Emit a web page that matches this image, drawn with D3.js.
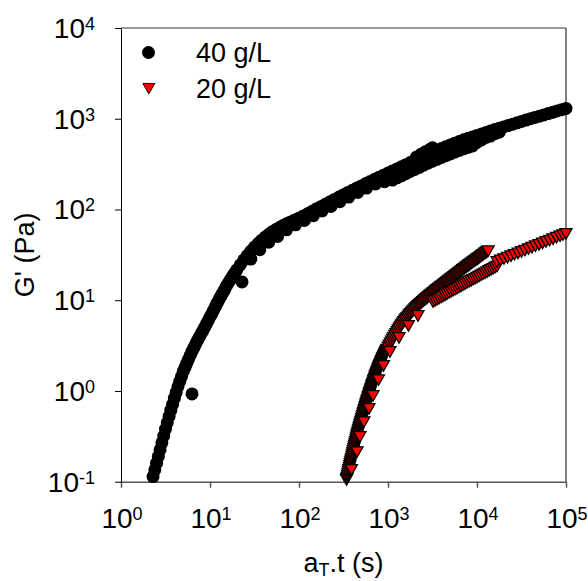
<!DOCTYPE html>
<html>
<head>
<meta charset="utf-8">
<script src="https://cdn.jsdelivr.net/npm/d3@7"></script>
<style>
  html, body { margin: 0; padding: 0; background: #fff; }
  svg { display: block; font-family: "Liberation Sans", Arial, Helvetica, sans-serif; }
</style>
</head>
<body>
<svg id="chart" width="588" height="581"></svg>
<script>
// ---------------- data ----------------
const seriesNames = ["40 g/L", "20 g/L"];
const xTickExponents = [0, 1, 2, 3, 4, 5];
const yTickExponents = [-1, 0, 1, 2, 3, 4];
const xTitle = { main: "a", sub: "T", rest: ".t (s)" };
const yTitle = "G' (Pa)";

// 40 g/L : [a_T.t (s), G' (Pa)]
const g40RunA = [
  [2.29,0.114],[2.40,0.135],[2.51,0.160],[2.63,0.190],[2.75,0.225],[2.88,0.268],[3.02,0.319],[3.16,0.380],
  [3.31,0.447],[3.47,0.525],[3.63,0.614],[3.80,0.714],[3.98,0.832],[4.17,0.964],[4.37,1.12],[4.57,1.28],
  [4.79,1.45],[5.01,1.64],[5.25,1.82],[5.50,2.03],[5.75,2.25],[6.03,2.49],[6.31,2.75],[6.61,3.02],
  [6.92,3.31],[7.24,3.61],[7.59,3.93],[7.94,4.27],[8.32,4.63],[8.71,5.04],[9.12,5.48],[9.55,5.98],
  [10.0,6.53],[10.5,7.13],[11.0,7.78],[11.5,8.49],[12.0,9.27],[12.6,10.1],[13.2,11.0],[13.8,11.9],
  [14.5,12.9],[15.1,14.0],[15.8,15.1],[16.6,16.3],[17.4,17.5],[18.2,18.8],[19.1,20.2],[20.0,21.6],
  [21.9,24.6],[24.0,27.8],[26.3,31.2],[28.8,34.8],[31.6,38.5],[34.7,42.2],[38.0,45.9],[41.7,49.7],
  [45.7,53.3],[50.1,56.9],[55.0,60.1],[60.3,63.2],[66.1,66.4],[72.4,69.5],[79.4,72.4],[87.1,75.5],
  [95.5,78.5],[100,80.0],[112,84.9],[126,90.2],[141,95.7],[158,102],[178,108],[200,115],[224,122],
  [251,129],[282,137],[316,145],[355,154],[398,163],[447,173],[501,182],[562,193],[631,204],[708,215],
  [794,227],[891,239],[1000,252],[1122,266],[1259,280],[1413,295],[1585,312],[1778,329],[1995,347],
  [2239,366],[2512,386],[2818,406],[3162,427],[3548,448],[3981,470],[4467,492],[5012,515],[5623,538],
  [6310,561],[7079,585],[7943,608],[8913,631],[10000,655],[11220,679],[12590,705],[14130,731],
  [15850,759],[17780,785],[19950,813],[22390,841],[25120,871],[28180,902],[31620,933],[35480,966],
  [39810,1000],[44670,1033],[50120,1067],[56230,1102],[63100,1140],[70790,1178],[79430,1219],
  [89130,1259],[100000,1300]
];
const g40RunB = [
  [28.8,28.4],[36.3,36.0],[45.7,43.6],[57.5,50.4],[72.4,59.7],[91.2,67.8],[115,75.7],[145,85.3],
  [182,96.2],[229,108],[288,122],[363,137],[457,154],[575,172],[724,191],[912,202],[1122,211],
  [1259,223],[1413,235],[1585,248],[1778,262],[1995,276],[2239,291],[2512,307],[2818,323],[3162,340],
  [3548,357],[3981,374],[4467,392],[5012,410],[5623,429],[6310,447],[7079,466],[7943,484],[8913,502],
  [10000,548],[11220,583],[12590,621],[14130,644],[15850,686],[17780,710]
];
const g40RunC = [[2089,379],[2344,405],[2630,432],[2951,459],[3162,479]];
const g40Stray = [[6.28,0.927],[22.9,15.9]];

// 20 g/L : [a_T.t (s), G' (Pa)]
const g20RunD = [
  [342,0.1045],[344.5,0.1077],[347,0.111],[351,0.1168],[355,0.123],[359,0.1289],[363,0.135],[367.5,0.1418],
  [372,0.149],[376,0.1563],[380,0.164],[384.5,0.1718],[389,0.180],[393.5,0.1893],[398,0.199],[402.5,0.2083],
  [407,0.218],[412,0.2287],[417,0.240],[422,0.2512],[427,0.263],[432,0.2752],[437,0.288],[442,0.3012],
  [447,0.315],[452,0.3292],[457,0.344],[462.5,0.3592],[468,0.375],[473.5,0.3897],[479,0.405],[484.5,0.4207],
  [490,0.437],[495.5,0.4542],[501,0.472],[507,0.4911],[513,0.511],[519,0.5311],[525,0.552],[531,0.5736],
  [537,0.596],[543.5,0.6191],[550,0.643],[556,0.667],[562,0.692],[568.5,0.718],[575,0.745],[582,0.772],
  [589,0.800],[596,0.829],[603,0.859],[610,0.889],[617,0.920],[624,0.9524],[631,0.986],[638.5,1.021],
  [646,1.057],[653.5,1.093],[661,1.130],[668.5,1.168],[676,1.208],[684,1.247],[692,1.288],[700,1.329],
  [708,1.371],[716,1.414],[724,1.459],[732.5,1.503],[741,1.549],[750,1.594],[759,1.641],[767.5,1.689],
  [776,1.738],[785,1.787],[794,1.837],[803.5,1.888],[813,1.941],[822.5,1.993],[832,2.046],[841.5,2.099],
  [851,2.153],[861,2.208],[871,2.265],[881,2.320],[891,2.377],[901.5,2.435],[912,2.495],[922.5,2.553],
  [933,2.612],[944,2.673],[955,2.735],[966,2.796],[977,2.858],[1006,3.013],[1035,3.177],[1065,3.342],
  [1096,3.516],[1128,3.694],[1161,3.882],[1195,4.069],[1230,4.266],[1266,4.467],[1303,4.677],[1341,4.886],
  [1380,5.105],[1420,5.327],[1462,5.559],[1505,5.767],[1549,5.984],[1594,6.180],[1641,6.383],[1689,6.607],
  [1738,6.839],[1789,7.063],[1841,7.295],[1895,7.517],[1950,7.745],[2007,7.971],[2065,8.204],[2126,8.434],
  [2188,8.670],[2252,8.902],[2317,9.141],[2385,9.375],[2455,9.616],[2526,9.850],[2600,10.09],[2676,10.34],
  [2754,10.59],[2834,10.84],[2917,11.09],[3002,11.35],[3090,11.61],[3180,11.88],[3273,12.16],[3369,12.45],
  [3467,12.74],[3569,13.02],[3673,13.30],[3780,13.60],[3890,13.90],[4004,14.21],[4121,14.52],[4241,14.84],
  [4365,15.17],[4493,15.51],[4624,15.85],[4759,16.20],[4898,16.56],[5041,16.93],[5188,17.30],[5339,17.68],
  [5495,18.07],[5656,18.47],[5821,18.88],[5991,19.30],[6166,19.72],[6346,20.16],[6531,20.61],[6722,21.06],
  [6918,21.53],[7120,22.01],[7328,22.49],[7542,22.99],[7762,23.50],[7989,23.99],[8222,24.49],[8462,25.00],
  [8710,25.53],[8964,26.06],[9226,26.61],[9495,27.16],[9772,27.73],[10060,28.31],[10350,28.91],[10650,29.51],
  [10960,30.13],[11280,30.76],[11610,31.41],[11950,32.06],[12300,32.73],[12660,33.42],[13030,34.12],[13340,34.67]
];
const g20RunE = [
  [389,0.135],[449,0.212],[484,0.311],[537,0.454],[612,0.634],[678,0.881],[782,1.32],[890,1.89],
  [1052,2.69],[1330,3.84],[1698,5.21],[2173,6.71]
];
const g20RunF = [
  [3206,9.57],[3376,9.83],[3556,10.1],[3745,10.4],[3945,10.7],[4150,11.0],[4365,11.3],[4597,11.64],
  [4842,12.0],[5099,12.34],[5370,12.7],[5656,13.05],[5957,13.4],[6274,13.79],[6607,14.2],[6958,14.59],
  [7328,15.0],[7718,15.44],[8128,15.9],[8560,16.34],[9016,16.8],[9495,17.24],[10000,17.7],[10530,18.24],
  [11090,18.8],[11680,19.29],[12300,19.8],[12960,20.39],[13650,21.0],[14380,21.59],[15140,22.2],
  [15940,22.84],[16790,23.5]
];
const g20RunG = [
  [16790,26.4],[18370,27.4],[20090,28.4],[22030,29.4],[24100,30.6],[26360,31.7],[28910,32.8],
  [31620,34.0],[34590,35.3],[37930,36.6],[41500,37.9],[45390,39.4],[49770,40.7],[54450,42.3],
  [59570,43.9],[65310,45.4],[71450,47.1],[78160,48.9],[85700,50.6],[92470,52.2],[100000,53.8]
];

const g40Runs = [g40RunA, g40RunB, g40RunC, g40Stray];
const g20Runs = [g20RunD, g20RunE, g20RunF, g20RunG];

// ---------------- layout ----------------
const svg = d3.select("#chart");
const plot = { left: 121, top: 28, right: 566, bottom: 481.7 };

const x = d3.scaleLog().domain([1, 1e5]).range([plot.left, plot.right]);
const y = d3.scaleLog().domain([0.1, 1e4]).range([plot.bottom, plot.top]);

const tickFont = 28, supFont = 18;

// frame: top and right edges
svg.append("line").attr("x1", plot.left).attr("x2", plot.right).attr("y1", plot.top).attr("y2", plot.top)
  .attr("stroke", "#333").attr("stroke-width", 1);
svg.append("line").attr("x1", plot.right).attr("x2", plot.right).attr("y1", plot.top).attr("y2", plot.bottom)
  .attr("stroke", "#555").attr("stroke-width", 1.5);

// bottom axis
const gx = svg.append("g").attr("transform", `translate(0,${plot.bottom})`)
  .call(d3.axisBottom(x).tickValues(xTickExponents.map(e => 10 ** e)).tickSize(6).tickSizeOuter(0).tickFormat(""));
gx.select(".domain").attr("stroke", "#555").attr("stroke-width", 1.5);
gx.selectAll(".tick line").attr("stroke", "#555").attr("stroke-width", 1.5);

// left axis
const gy = svg.append("g").attr("transform", `translate(${plot.left},0)`)
  .call(d3.axisLeft(y).tickValues(yTickExponents.map(e => 10 ** e)).tickSize(6).tickSizeOuter(0).tickFormat(""));
gy.select(".domain").attr("stroke", "#000").attr("stroke-width", 1);
gy.selectAll(".tick line").attr("stroke", "#000").attr("stroke-width", 1);

// power-of-ten tick labels
function powerLabel(sel) {
  sel.each(function (e) {
    const t = d3.select(this);
    t.append("tspan").text("10");
    t.append("tspan").attr("font-size", supFont).attr("dy", -8).text(e);
  });
}
svg.append("g").selectAll("text").data(xTickExponents).join("text")
  .attr("x", e => x(10 ** e) + 1)
  .attr("y", 528)
  .attr("text-anchor", "middle")
  .attr("font-size", tickFont)
  .attr("fill", "#000")
  .call(powerLabel);
svg.append("g").selectAll("text").data(yTickExponents).join("text")
  .attr("x", 95)
  .attr("y", e => y(10 ** e) + 10)
  .attr("text-anchor", "end")
  .attr("font-size", tickFont)
  .attr("fill", "#000")
  .call(powerLabel);

// axis titles
const xt = svg.append("text").attr("x", (plot.left + plot.right) / 2).attr("y", 572)
  .attr("text-anchor", "middle").attr("font-size", 27).attr("fill", "#000");
xt.append("tspan").text(xTitle.main);
xt.append("tspan").attr("font-size", 18).attr("dy", 4).text(xTitle.sub);
xt.append("tspan").attr("dy", -4).text(xTitle.rest);

svg.append("text")
  .attr("transform", `translate(34,${(plot.top + plot.bottom) / 2}) rotate(-90)`)
  .attr("text-anchor", "middle").attr("font-size", 27).attr("fill", "#000")
  .text(yTitle);

// markers
const triangle = "M-6,-5.25L6,-5.25L0,5.25Z";
const marks = svg.append("g");
g40Runs.forEach(run => {
  marks.append("g").selectAll("circle").data(run).join("circle")
    .attr("cx", d => x(d[0])).attr("cy", d => y(d[1])).attr("r", 6.5)
    .attr("fill", "#000");
});
g20Runs.forEach(run => {
  marks.append("g").selectAll("path").data(run).join("path")
    .attr("transform", d => `translate(${x(d[0])},${y(d[1])})`)
    .attr("d", triangle)
    .attr("fill", "#ff0000").attr("stroke", "#000").attr("stroke-width", 1.25);
});

// legend
const legend = svg.append("g");
const legendRows = [{ y: 52.5, text: seriesNames[0], kind: "circle" }, { y: 88.7, text: seriesNames[1], kind: "triangle" }];
legendRows.forEach(r => {
  if (r.kind === "circle") {
    legend.append("circle").attr("cx", 148.5).attr("cy", r.y).attr("r", 6.5).attr("fill", "#000");
  } else {
    legend.append("path").attr("transform", `translate(148.8,${r.y})`).attr("d", triangle)
      .attr("fill", "#ff0000").attr("stroke", "#000").attr("stroke-width", 0.9);
  }
  legend.append("text").attr("x", 196).attr("y", r.y + 9)
    .attr("font-size", 27).attr("fill", "#000").text(r.text);
});
</script>
</body>
</html>
